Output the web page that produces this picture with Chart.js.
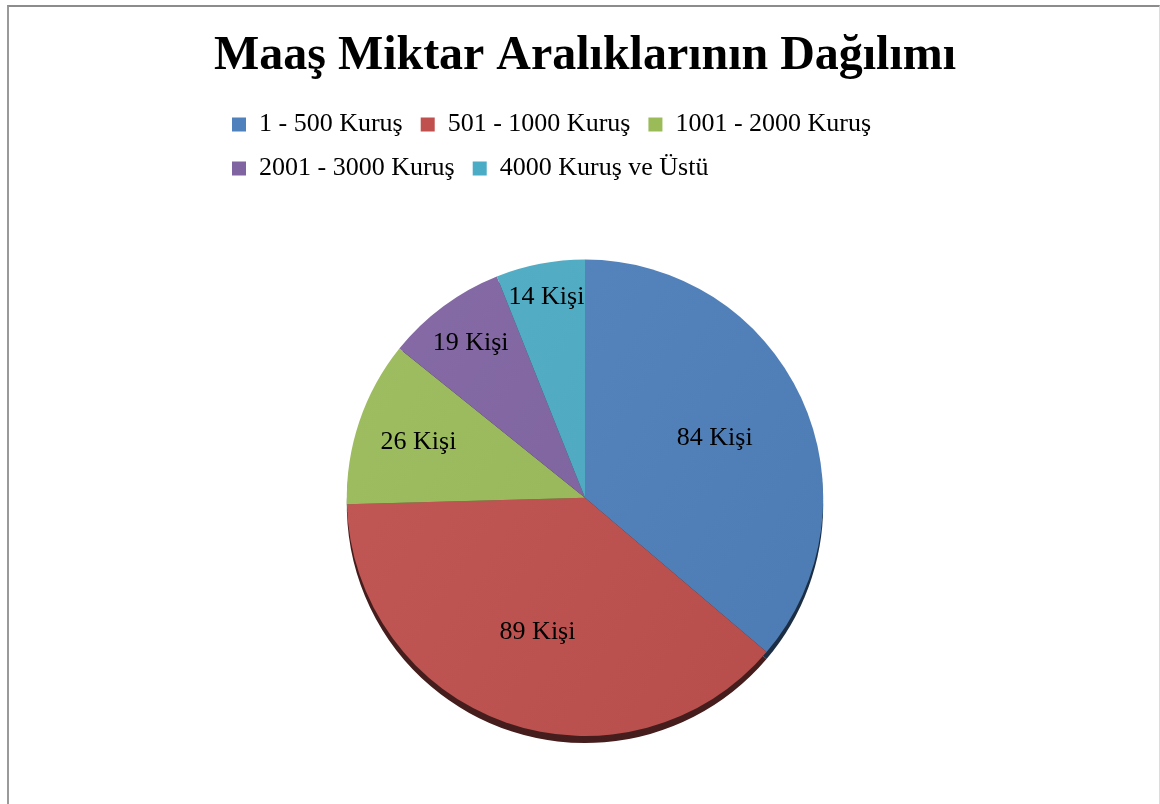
<!DOCTYPE html>
<html lang="tr">
<head>
<meta charset="utf-8">
<title>Maaş Miktar Aralıklarının Dağılımı</title>
<script src="https://cdn.jsdelivr.net/npm/chart.js@4.4.1/dist/chart.umd.min.js"></script>
<style>
  html, body { margin: 0; padding: 0; background: #fff; overflow: hidden; }
  #frame {
    position: absolute; left: 7px; top: 5px; width: 1150px; height: 900px;
    border-left: 2px solid #9a9a9a; border-top: 2px solid #8c8c8c; border-right: 1px solid #dcdcdc;
  }
  #wrap { position: absolute; left: 0; top: 0; width: 1160px; height: 804px; }
</style>
</head>
<body>
<div id="frame"></div>
<div id="wrap"><canvas id="salaryChart"></canvas></div>
<script>
// veriler
const categories = ["1 - 500 Kuruş", "501 - 1000 Kuruş", "1001 - 2000 Kuruş", "2001 - 3000 Kuruş", "4000 Kuruş ve Üstü"];
const personCounts = [84, 89, 26, 19, 14];
const valueSuffix = " Kişi";
const sliceColors = ["#4F81BD", "#C0504D", "#9BBB59", "#8064A2", "#4BACC6"];

const serif = '"Liberation Serif", "Times New Roman", Times, serif';

// renk açma / koyulaştırma
function shade(hex, amt) {
  const n = parseInt(hex.slice(1), 16);
  let r = (n >> 16) & 255, g = (n >> 8) & 255, b = n & 255;
  const f = (c) => Math.round(amt >= 0 ? c + (255 - c) * amt : c * (1 + amt));
  return `rgb(${f(r)}, ${f(g)}, ${f(b)})`;
}

// legend altına boşluk
const legendSpacer = {
  id: "legendSpacer",
  beforeInit(chart) {
    const origFit = chart.legend.fit;
    chart.legend.fit = function () {
      origFit.bind(chart.legend)();
      this.height += 68;
    };
  },
};

// pastanın altındaki koyu kenar
const pieEdge = {
  id: "pieEdge",
  beforeDatasetsDraw(chart) {
    const ctx = chart.ctx;
    const meta = chart.getDatasetMeta(0);
    ctx.save();
    meta.data.forEach((arc, i) => {
      const p = arc.getProps(["x", "y", "startAngle", "endAngle", "outerRadius"], true);
      ctx.beginPath();
      ctx.moveTo(p.x, p.y + 7);
      ctx.arc(p.x, p.y + 7, p.outerRadius, p.startAngle, p.endAngle);
      ctx.closePath();
      ctx.fillStyle = shade(sliceColors[i], -0.64);
      ctx.fill();
    });
    ctx.restore();
  },
};

// dilim etiketleri
const sliceLabels = {
  id: "sliceLabels",
  afterDatasetsDraw(chart) {
    const ctx = chart.ctx;
    const meta = chart.getDatasetMeta(0);
    ctx.save();
    ctx.font = "26px " + serif;
    ctx.fillStyle = "#000";
    ctx.textAlign = "center";
    ctx.textBaseline = "middle";
    meta.data.forEach((arc, i) => {
      const p = arc.getProps(["x", "y", "startAngle", "endAngle", "outerRadius"], true);
      const span = ((p.endAngle - p.startAngle) * 180) / Math.PI;
      const frac = Math.max(0.6, Math.min(0.86, 1 - span * 0.0065));
      const mid = (p.startAngle + p.endAngle) / 2;
      const r = p.outerRadius * frac;
      ctx.fillText(personCounts[i] + valueSuffix, p.x + Math.cos(mid) * r, p.y + Math.sin(mid) * r);
    });
    ctx.restore();
  },
};

const ctx = document.getElementById("salaryChart").getContext("2d");
new Chart(ctx, {
  type: "pie",
  data: {
    labels: categories,
    datasets: [
      {
        data: personCounts,
        backgroundColor: (c) => {
          const base = sliceColors[c.dataIndex];
          const area = c.chart.chartArea;
          if (!area) return base;
          const g = c.chart.ctx.createLinearGradient(area.left, area.top, area.right, area.bottom);
          g.addColorStop(0, shade(base, 0.06));
          g.addColorStop(1, shade(base, -0.06));
          return g;
        },
        borderWidth: 0,
        hoverOffset: 0,
      },
    ],
  },
  options: {
    responsive: true,
    maintainAspectRatio: false,
    animation: false,
    layout: { padding: { top: 10, left: 214, right: 204, bottom: 68 } },
    plugins: {
      title: {
        display: true,
        text: "Maaş Miktar Aralıklarının Dağılımı",
        color: "#000",
        font: { family: serif, size: 48, weight: "bold", lineHeight: 1.2 },
        padding: { top: 18, bottom: 8 },
      },
      legend: {
        position: "top",
        align: "start",
        labels: {
          color: "#000",
          font: { family: serif, size: 26 },
          boxWidth: 14,
          boxHeight: 14,
          padding: 18,
          generateLabels(chart) {
            const items = Chart.overrides.pie.plugins.legend.labels.generateLabels(chart);
            items.forEach((it, i) => {
              it.fillStyle = sliceColors[i];
              it.strokeStyle = sliceColors[i];
              it.lineWidth = 0;
            });
            return items;
          },
        },
      },
      tooltip: { enabled: false },
    },
  },
  plugins: [legendSpacer, pieEdge, sliceLabels],
});
</script>
</body>
</html>
